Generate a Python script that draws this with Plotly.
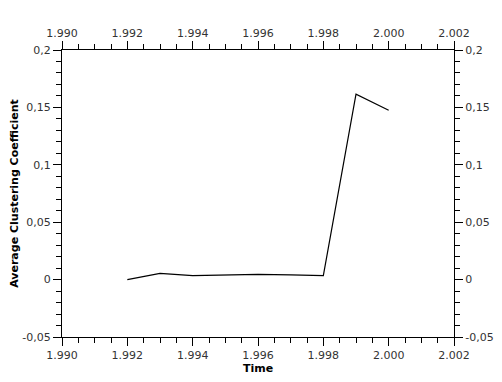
import plotly.graph_objects as go

# données
years = [1992, 1993, 1994, 1995, 1996, 1997, 1998, 1999, 2000]
avg_clustering = [0.0, 0.0055, 0.0035, 0.0042, 0.0045, 0.0042, 0.0035, 0.1615, 0.1475]

y_ticks = [-0.05, 0, 0.05, 0.1, 0.15, 0.2]
y_labels = ["-0,05", "0", "0,05", "0,1", "0,15", "0,2"]

font_ticks = dict(family="DejaVu Sans", size=11, color="#333333")
font_title = dict(family="DejaVu Sans", size=11, color="black")

fig = go.Figure()
fig.add_trace(go.Scatter(x=years, y=avg_clustering, mode="lines",
                         line=dict(color="black", width=1.2), showlegend=False))
# trace invisible pour les axes miroirs
fig.add_trace(go.Scatter(x=years, y=avg_clustering, xaxis="x2", yaxis="y2",
                         mode="lines", line=dict(width=0), opacity=0,
                         showlegend=False, hoverinfo="skip"))

xcommon = dict(range=[1990, 2002], dtick=2, tick0=1990, tickformat=",d",
               ticks="outside", ticklen=8, tickcolor="black", showgrid=False,
               zeroline=False, showline=True, linecolor="black", linewidth=1,
               tickfont=font_ticks, automargin=False,
               minor=dict(ticks="outside", dtick=0.5, ticklen=5, tickcolor="black"))
ycommon = dict(range=[-0.05, 0.2], tickvals=y_ticks, ticktext=y_labels,
               ticks="outside", ticklen=8, tickcolor="black", showgrid=False,
               zeroline=False, showline=True, linecolor="black", linewidth=1,
               tickfont=font_ticks, automargin=False,
               minor=dict(ticks="outside", dtick=0.01, tick0=0, ticklen=5, tickcolor="black"))

# la page ajoute une marge de 8px : on réduit la figure d'autant
fig.update_layout(
    width=494, height=374,
    margin=dict(l=54, r=48, t=42, b=45),
    plot_bgcolor="white", paper_bgcolor="white",
    separators=",.",
    xaxis=dict(xcommon, side="bottom",
               title=dict(text="<b>Time</b>", font=font_title, standoff=0)),
    xaxis2=dict(xcommon, side="top", overlaying="x"),
    yaxis=dict(ycommon, side="left",
               title=dict(text="<b>Average Clustering Coefficient</b>", font=font_title, standoff=8)),
    yaxis2=dict(ycommon, side="right", overlaying="y"),
)

fig.write_html("out.html")
